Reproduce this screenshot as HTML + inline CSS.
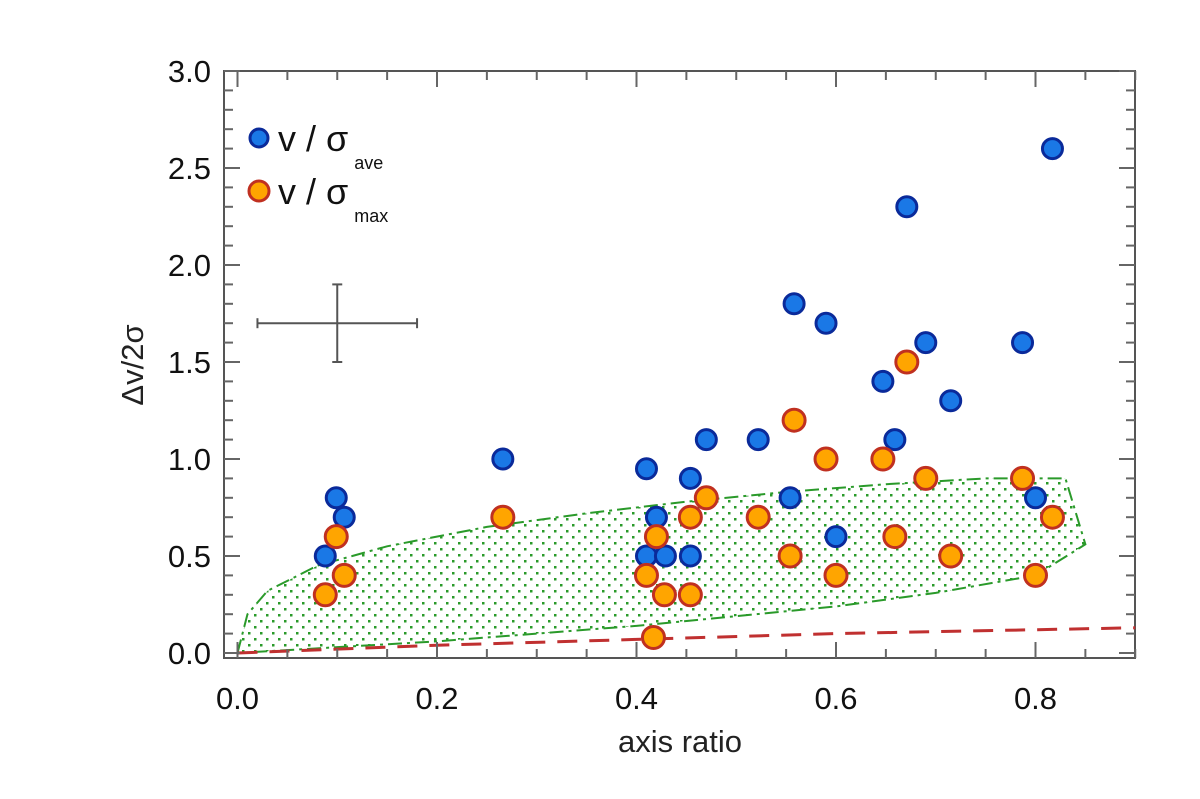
<!DOCTYPE html>
<html><head><meta charset="utf-8"><style>
html,body{margin:0;padding:0;background:#fff;}
svg{display:block;font-family:"Liberation Sans",sans-serif;}
</style></head><body>
<svg id="chart" width="1200" height="799" viewBox="0 0 1200 799">
<rect x="224" y="71" width="911" height="587" fill="none" stroke="#555" stroke-width="2"/>
<g id="region"></g>
<g id="ticks"></g>
<g id="marks"></g>
<text x="680" y="752" font-size="31" text-anchor="middle" fill="#222">axis ratio</text>
<text transform="translate(143,365) rotate(-90)" font-size="31" text-anchor="middle" fill="#222">Δv/2σ</text>
<g>
<circle cx="259" cy="138" r="9" fill="#1a78e6" stroke="#0a2a9a" stroke-width="3"/>
<text x="278" y="151" font-size="36" fill="#111">v / σ<tspan font-size="18" dy="18" dx="6">ave</tspan></text>
<circle cx="259" cy="191" r="10" fill="#ffa500" stroke="#c03020" stroke-width="3"/>
<text x="278" y="204" font-size="36" fill="#111">v / σ<tspan font-size="18" dy="18" dx="6">max</tspan></text>
</g>
</svg>
<script>
const xTicks=[0,0.2,0.4,0.6,0.8];
const yTicks=[0,0.5,1.0,1.5,2.0,2.5,3.0];
const aveX=[0.088,0.099,0.107,0.266,0.41,0.41,0.42,0.429,0.454,0.454,0.47,0.522,0.558,0.554,0.59,0.6,0.647,0.659,0.671,0.69,0.715,0.787,0.8,0.817];
const aveY=[0.5,0.8,0.7,1.0,0.95,0.5,0.7,0.5,0.9,0.5,1.1,1.1,1.8,0.8,1.7,0.6,1.4,1.1,2.3,1.6,1.3,1.6,0.8,2.6];
const maxX=[0.088,0.099,0.107,0.266,0.41,0.42,0.417,0.428,0.454,0.454,0.47,0.522,0.558,0.554,0.59,0.6,0.647,0.659,0.671,0.69,0.715,0.787,0.8,0.817];
const maxY=[0.3,0.6,0.4,0.7,0.4,0.6,0.08,0.3,0.7,0.3,0.8,0.7,1.2,0.5,1.0,0.4,1.0,0.6,1.5,0.9,0.5,0.9,0.4,0.7];
const upperX=[0,0.01,0.03,0.08,0.15,0.25,0.35,0.45,0.55,0.65,0.75,0.83];
const upperY=[0,0.2,0.32,0.45,0.55,0.65,0.72,0.78,0.83,0.87,0.9,0.9];
const lowerX=[0,0.1,0.2,0.3,0.4,0.5,0.6,0.7,0.8,0.85];
const lowerY=[0,0.03,0.06,0.1,0.14,0.19,0.24,0.31,0.4,0.56];
const lineX=[0,0.2,0.4,0.6,0.8,0.9];
const lineY=[0,0.04,0.07,0.1,0.12,0.13];
const errX=[0.1], errY=[1.7], errDX=[0.08], errDY=[0.2];

const NS="http://www.w3.org/2000/svg";
const X=v=>237.5+v*997.5;
const Y=v=>653-v*194;
function mk(tag,attrs,parent){const e=document.createElementNS(NS,tag);for(const k in attrs)e.setAttribute(k,attrs[k]);parent.appendChild(e);return e;}
const ticks=document.getElementById('ticks');
for(let i=0;i<=18;i++){const v=i*0.05,x=X(v);const L=(i%4===0)?16:9;
 let t=mk('line',{x1:x,x2:x,y1:658,y2:658-L,stroke:'#666','stroke-width':2},ticks);
 
 t=mk('line',{x1:x,x2:x,y1:71,y2:71+L,stroke:'#666','stroke-width':2},ticks);
 }
for(let i=0;i<=30;i++){const v=i*0.1,y=Y(v);const L=(i%5===0)?16:9;
 let t=mk('line',{x1:224,x2:224+L,y1:y,y2:y,stroke:'#666','stroke-width':2},ticks);
 
 t=mk('line',{x1:1135,x2:1135-L,y1:y,y2:y,stroke:'#666','stroke-width':2},ticks);
 }
xTicks.forEach(v=>{const t=mk('text',{x:X(v),y:709,'font-size':31,'text-anchor':'middle',fill:'#111'},ticks);t.textContent=v.toFixed(1);
 });
yTicks.forEach(v=>{const t=mk('text',{x:211,y:Y(v)+11,'font-size':31,'text-anchor':'end',fill:'#111'},ticks);t.textContent=v.toFixed(1);
 });
const reg=document.getElementById('region');
const defs=mk('defs',{},reg);
const pat=mk('pattern',{id:'dots',width:12,height:12,patternUnits:'userSpaceOnUse'},defs);
mk('rect',{x:2,y:2,width:2.5,height:2.5,fill:'#2a9a2a'},pat);
mk('rect',{x:8,y:8,width:2.5,height:2.5,fill:'#2a9a2a'},pat);
let d='M'+upperX.map((v,i)=>X(v)+','+Y(upperY[i])).join(' L');
for(let i=lowerX.length-1;i>=0;i--)d+=' L'+X(lowerX[i])+','+Y(lowerY[i]);
d+=' Z';
const rp=mk('path',{d:d,fill:'url(#dots)',stroke:'#2a9a2a','stroke-width':2,'stroke-dasharray':'14 5 3 5'},reg);

const rl=mk('path',{d:'M'+lineX.map((v,i)=>X(v)+','+Y(lineY[i])).join(' L'),fill:'none',stroke:'#c03030','stroke-width':3,'stroke-dasharray':'20 12'},reg);

const marks=document.getElementById('marks');
aveX.forEach((v,i)=>{const c=mk('circle',{cx:X(v),cy:Y(aveY[i]),r:10,fill:'#1a78e6',stroke:'#0a2a9a','stroke-width':3},marks);
 });
maxX.forEach((v,i)=>{const c=mk('circle',{cx:X(v),cy:Y(maxY[i]),r:11,fill:'#ffa500',stroke:'#c03020','stroke-width':3},marks);
 });
errX.forEach((v,i)=>{const g=mk('g',{stroke:'#555','stroke-width':2},marks);
 
 mk('line',{x1:X(v-errDX[i]),x2:X(v+errDX[i]),y1:Y(errY[i]),y2:Y(errY[i])},g);
 mk('line',{x1:X(v),x2:X(v),y1:Y(errY[i]-errDY[i]),y2:Y(errY[i]+errDY[i])},g);
 mk('line',{x1:X(v-errDX[i]),x2:X(v-errDX[i]),y1:Y(errY[i])-5,y2:Y(errY[i])+5},g);
 mk('line',{x1:X(v+errDX[i]),x2:X(v+errDX[i]),y1:Y(errY[i])-5,y2:Y(errY[i])+5},g);
 mk('line',{x1:X(v)-5,x2:X(v)+5,y1:Y(errY[i]-errDY[i]),y2:Y(errY[i]-errDY[i])},g);
 mk('line',{x1:X(v)-5,x2:X(v)+5,y1:Y(errY[i]+errDY[i]),y2:Y(errY[i]+errDY[i])},g);});
</script>
</body></html>
